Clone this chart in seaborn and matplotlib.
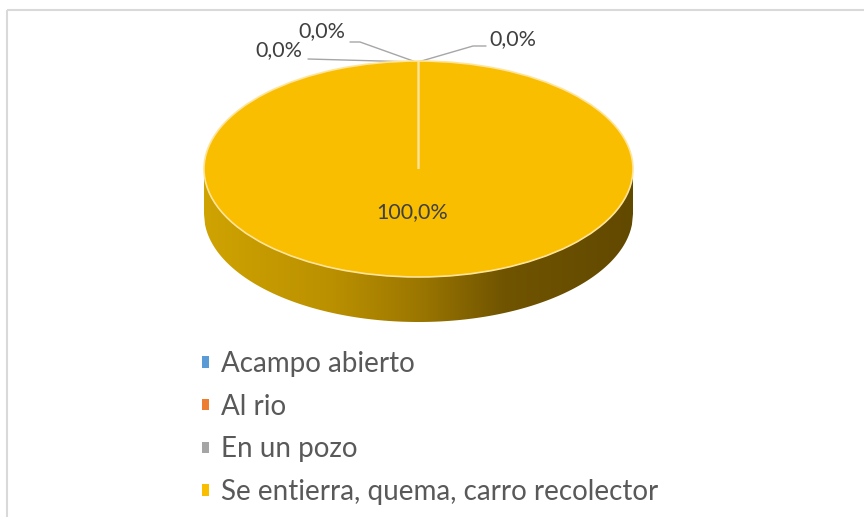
import matplotlib.pyplot as plt
import seaborn as sns
import numpy as np
from matplotlib.colors import LinearSegmentedColormap
from matplotlib.patches import Polygon

categories = ["Acampo abierto", "Al rio", "En un pozo", "Se entierra, quema, carro recolector"]
values = [0.0, 0.0, 0.0, 100.0]
colors = ["#5B9BD5", "#ED7D31", "#A5A5A5", "#F9BE00"]

sns.set_theme(style="white")
plt.rcParams["font.family"] = ["Lato", "DejaVu Sans"]

W, H = 864, 517
fig = plt.figure(figsize=(W / 100, H / 100), dpi=100)

# background axes in pixel coordinates
bg = fig.add_axes([0, 0, 1, 1])
bg.set_xlim(0, W)
bg.set_ylim(H, 0)
bg.axis("off")
bg.plot([7, 7], [H, 10], color="#D9D9D9", lw=1.5, solid_capstyle="butt")
bg.plot([7, W], [10, 10], color="#D9D9D9", lw=1.5, solid_capstyle="butt")

# pie axes: ellipse box 204..633 x 61..277, side down to 322
left, right, top, bottom = 204, 633, 61, 322
depth = 2 * 45 / 216
ax = fig.add_axes([left / W, 1 - bottom / H, (right - left) / W, (bottom - top) / H])


def pct_label(p):
    return f"{p:.1f}%".replace(".", ",") if p > 0 else ""


wedges, _, autotexts = ax.pie(
    values,
    colors=colors,
    startangle=90,
    counterclock=False,
    autopct=pct_label,
    pctdistance=0.4,
    wedgeprops=dict(edgecolor="#FFE49A", linewidth=1.2),
    textprops=dict(color="#404040", fontsize=15.5),
)
ax.set_aspect("auto")
ax.axis("off")
for w, v in zip(wedges, values):
    w.set_clip_on(False)
    if v == 0:
        w.set_zorder(3)
for t in autotexts:
    t.set_x(t.get_position()[0] - 0.028)

# side of the 3D disc with a horizontal gradient
xs = np.linspace(-1, 1, 400)
upper = -np.sqrt(1 - xs ** 2)
side = np.vstack([np.column_stack([xs, upper]),
                  np.column_stack([xs[::-1], upper[::-1] - depth])])
poly = Polygon(side, closed=True, facecolor="none", edgecolor="none")
ax.add_patch(poly)
side_cmap = LinearSegmentedColormap.from_list(
    "side", [(0, "#CFA300"), (0.3, "#BA9000"), (0.5, "#9C7700"),
             (0.7, "#705400"), (1, "#624900")])
grad = ax.imshow(np.linspace(0, 1, 256)[None, :], cmap=side_cmap, aspect="auto",
                 extent=(-1, 1, -1 - depth, 0), zorder=0.5, interpolation="bilinear")
grad.set_clip_path(poly)
ax.set_xlim(-1, 1)
ax.set_ylim(-1 - depth, 1)

# data labels for the zero slices with leader lines
total = sum(values)
zero_labels = [f"{v / total * 100:.1f}%".replace(".", ",") for v in values[:3]]
lead = "#A6A6A6"
bg.plot([308, 416], [59, 62], color=lead, lw=1)
bg.plot([350, 360, 416], [42, 42, 62], color=lead, lw=1)
bg.plot([418, 473, 486], [62, 46, 46], color=lead, lw=1)
label_pos = [(279, 50), (322, 31), (513, 39)]
for txt, (x, y) in zip(zero_labels, label_pos):
    bg.text(x, y, txt, ha="center", va="center", color="#404040", fontsize=15.5)

leg = bg.legend(
    wedges, categories,
    loc="upper left", bbox_to_anchor=(202, 351), bbox_transform=bg.transData,
    frameon=False, fontsize=20, handlelength=0.26, handleheight=0.26,
    handletextpad=0.42, labelspacing=0.6, borderpad=0, borderaxespad=0,
    labelcolor="#595959",
)
for h in leg.legend_handles:
    h.set_edgecolor("none")

fig.savefig("out.png", dpi=100, facecolor="white")
